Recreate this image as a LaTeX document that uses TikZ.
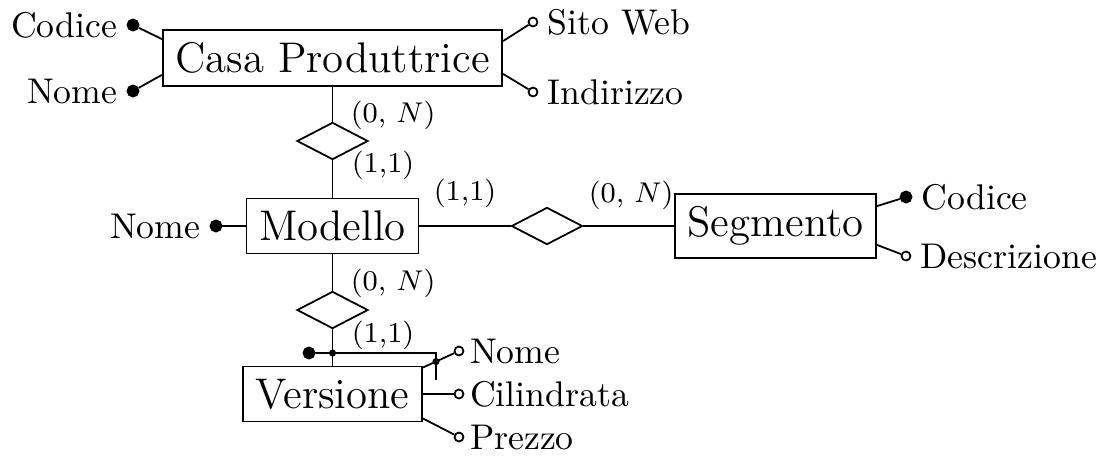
\documentclass[tikz,border=0pt]{standalone}
\usetikzlibrary{shapes.geometric,calc}
\tikzset{
  entity/.style={draw, font=\large, inner sep=3.5pt},
  relation/.style={draw, diamond, minimum width=19.9pt, minimum height=10.4pt, inner sep=0pt},
  keyattr/.style={circle, draw, fill=black, inner sep=0pt, minimum size=3.1pt},
  attr/.style={circle, draw, fill=white, inner sep=0pt, minimum size=2.5pt},
  jdot/.style={circle, fill=black, inner sep=0pt, minimum size=2pt},
  card/.style={font=\footnotesize, inner sep=0pt, anchor=west},
  every label/.style={font=\normalsize},
}
\begin{document}
\begin{tikzpicture}[x=0.28pt, y=-0.28pt, line width=0.5pt, label distance=-1pt]
\useasboundingbox (0,0) rectangle (1110,461);
% entities
\node[entity] (cp) at (332.5,58) {Casa Produttrice};
\node[entity] (mod) at (332.5,226) {Modello};
\node[entity] (seg) at (775.5,226) {Segmento};
\node[entity] (ver) at (332.5,394) {Versione};
% relations
\node[relation] (r1) at (332.5,141) {};
\node[relation] (r2) at (547,226) {};
\node[relation] (r3) at (332.5,310) {};
% attributes
\node[keyattr, label=left:Codice] (cpcod) at (133,25) {};
\node[keyattr, label=left:Nome] (cpnome) at (133,91) {};
\node[attr, label=right:Sito Web] (cpsito) at (533,22) {};
\node[attr, label=right:Indirizzo] (cpind) at (533,92) {};
\node[keyattr, label=left:Nome] (modnome) at (216,226) {};
\node[keyattr, label=right:Codice] (segcod) at (906,197) {};
\node[attr, label=right:Descrizione] (segdesc) at (906,256) {};
\node[attr, label={[label distance=-2pt]right:Nome}] (vernome) at (459,351) {};
\node[attr, label={[label distance=-2pt]right:Cilindrata}] (vercil) at (459,394) {};
\node[attr, label={[label distance=-2pt]right:Prezzo}] (verprezzo) at (459,437) {};
% cardinalities
\node[card] (c1) at (350,115) {(0, $N$)};
\node[card] (c2) at (351,165) {(1,1)};
\node[card] (c3) at (433,193) {(1,1)};
\node[card] (c4) at (588,195) {(0, $N$)};
\node[card] (c5) at (350,283) {(0, $N$)};
\node[card] (c6) at (351,335) {(1,1)};
% relationship connectors
\draw (cp.south) -- (r1.north);
\draw (r1.south) -- (mod.north);
\draw (mod.east) -- (r2.west);
\draw (r2.east) -- (seg.west);
\draw (mod.south) -- (r3.north);
\draw (r3.south) -- (ver.north);
% attribute connectors
\draw (cpcod) -- ($(cp.north west)+(0,10)$);
\draw (cpnome) -- ($(cp.south west)+(0,-12)$);
\draw (cpsito) -- ($(cp.north east)+(0,12)$);
\draw (cpind) -- ($(cp.south east)+(0,-13)$);
\draw (modnome) -- (mod.west);
\draw (segcod) -- ($(seg.north east)+(0,13)$);
\draw (segdesc) -- ($(seg.south east)+(0,-14)$);
\coordinate (vnstart) at ($(ver.north east)+(0,2)$);
\draw (vernome) -- (vnstart);
\draw (vercil) -- (ver.east);
\draw (verprezzo) -- ($(ver.south east)+(0,-4)$);
% external identifier
\node[keyattr] (idkey) at (309,353) {};
\coordinate (icorner) at (436,353);
\coordinate (iend) at (436,380);
\coordinate (j1) at (ver.north |- idkey);
\draw (idkey) -- (icorner) -- (iend);
\path (intersection of icorner--iend and vnstart--vernome) coordinate (j2);
\node[jdot] at (j1) {};
\node[jdot] at (j2) {};
\end{tikzpicture}
\end{document}
